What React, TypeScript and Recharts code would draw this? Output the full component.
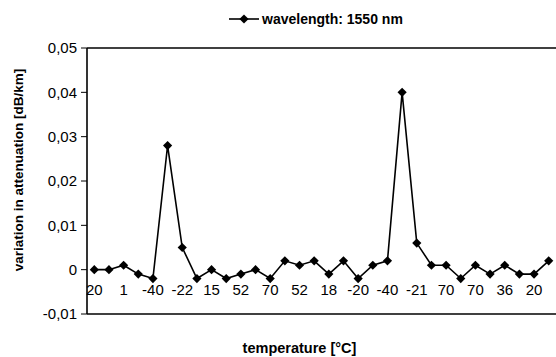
import React from "react";
import {
  LineChart, Line, XAxis, YAxis, Legend, ReferenceLine, Label,
} from "recharts";

// ─── Data ─────────────────────────────────────────────────────────────────────

// temperature labels under every other point (the others are not printed)
const TEMPS = [
  "20", "", "1", "", "-40", "", "-22", "", "15", "", "52", "", "70", "", "52", "",
  "18", "", "-20", "", "-40", "", "-21", "", "70", "", "70", "", "36", "", "20", "",
];

const ATTENUATION = [
  0, 0, 0.001, -0.001, -0.002, 0.028, 0.005, -0.002,
  0, -0.002, -0.001, 0, -0.002, 0.002, 0.001, 0.002,
  -0.001, 0.002, -0.002, 0.001, 0.002, 0.04, 0.006, 0.001,
  0.001, -0.002, 0.001, -0.001, 0.001, -0.001, -0.001, 0.002,
];

const Y_TICKS = [-0.01, 0, 0.01, 0.02, 0.03, 0.04, 0.05];

const SERIES_NAME = "wavelength: 1550 nm";

const data = ATTENUATION.map((v, i) => ({ idx: i, temp: TEMPS[i], value: v }));

const FONT = "Arial, 'Liberation Sans', sans-serif";

function fmtY(v: number) {
  return v === 0 ? "0" : v.toFixed(2).replace(".", ",");
}

// ─── Marks ────────────────────────────────────────────────────────────────────

function Diamond({ cx, cy, r = 4.6 }: any) {
  if (cx == null || cy == null) return null;
  return (
    <polygon
      points={`${cx},${cy - r} ${cx + r},${cy} ${cx},${cy + r} ${cx - r},${cy}`}
      fill="#000"
    />
  );
}

function TempTick({ x, y, payload }: any) {
  const label = TEMPS[payload.value] ?? "";
  if (!label) return null;
  return (
    <text x={x} y={y - 19} textAnchor="middle" fontSize={15} fontFamily={FONT} fill="#000">
      {label}
    </text>
  );
}

function LegendBox() {
  return (
    <div style={{ display: "flex", alignItems: "center", fontFamily: FONT, whiteSpace: "nowrap" }}>
      <svg width={30} height={12} style={{ marginRight: 3 }}>
        <line x1={0} y1={6} x2={30} y2={6} stroke="#000" strokeWidth={1.6} />
        <Diamond cx={15} cy={6} r={4.6} />
      </svg>
      <span style={{ fontSize: 14, fontWeight: 700, color: "#000" }}>{SERIES_NAME}</span>
    </div>
  );
}

// ─── Main ─────────────────────────────────────────────────────────────────────

export default function App() {
  return (
    <div style={{ width: 556, height: 357, background: "#fff" }}>
      <style>{`body{margin:0;}`}</style>
      <LineChart
        width={556}
        height={357}
        data={data}
        margin={{ top: 32, right: 0, bottom: 0, left: 0 }}
      >
        <XAxis
          dataKey="idx"
          type="category"
          interval={0}
          height={43}
          padding={{ left: 7.3, right: 7.3 }}
          tickSize={0}
          tickMargin={0}
          tick={<TempTick />}
          axisLine={{ stroke: "#000", strokeWidth: 1.6 }}
          tickLine={false}
        >
          <Label
            content={({ viewBox }: any) => (
              <text
                x={viewBox.x + viewBox.width / 2 - 22}
                y={viewBox.y + 39}
                textAnchor="middle"
                fontSize={14.5}
                fontWeight={700}
                fontFamily={FONT}
                fill="#000"
              >
                temperature [°C]
              </text>
            )}
          />
        </XAxis>
        <YAxis
          width={87}
          domain={[-0.01, 0.05]}
          ticks={Y_TICKS}
          tickFormatter={fmtY}
          tick={{ fill: "#000", fontSize: 15, fontFamily: FONT }}
          tickSize={6}
          tickMargin={4}
          axisLine={{ stroke: "#000", strokeWidth: 1.6 }}
          tickLine={{ stroke: "#000" }}
        >
          <Label
            content={({ viewBox }: any) => {
              const cy = viewBox.y + viewBox.height / 2 - 11;
              return (
                <text
                  x={18}
                  y={cy}
                  transform={`rotate(-90, 18, ${cy})`}
                  textAnchor="middle"
                  dominantBaseline="central"
                  fontSize={13.5}
                  fontWeight={700}
                  fontFamily={FONT}
                  fill="#000"
                >
                  variation in attenuation [dB/km]
                </text>
              );
            }}
          />
        </YAxis>
        <ReferenceLine y={0.05} stroke="#000" strokeWidth={1.6} ifOverflow="extendDomain" />
        <Legend
          layout="vertical"
          align="center"
          verticalAlign="top"
          content={() => <LegendBox />}
          wrapperStyle={{ left: 229, top: 11, width: "auto" }}
        />
        <Line
          type="linear"
          dataKey="value"
          name={SERIES_NAME}
          stroke="#000"
          strokeWidth={1.6}
          dot={(p: any) => <Diamond key={p.index} cx={p.cx} cy={p.cy} />}
          activeDot={false}
          isAnimationActive={false}
        />
      </LineChart>
    </div>
  );
}
